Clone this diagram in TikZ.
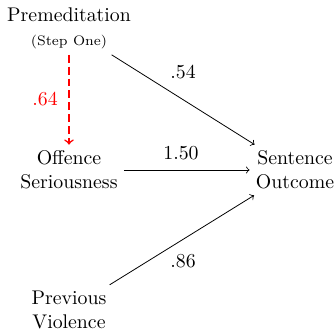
\documentclass[tikz,border=0pt]{standalone}
\usetikzlibrary{arrows}
\begin{document}
\begin{tikzpicture}[x=0.5051pt,y=-0.5051pt,
  var/.style={align=center, inner sep=3pt},
  coef/.style={inner sep=0pt},
  link/.style={->}]
\useasboundingbox (0,0) rectangle (336,330);
\node[var] (prem) at (69,28) {Premeditation\\{\scriptsize (Step One)}};
\node[var] (off) at (69,170) {Offence\\Seriousness};
\node[var] (sent) at (295,170) {Sentence\\Outcome};
\node[var] (prev) at (69,310) {Previous\\Violence};
\draw[->, red, thick, dash pattern=on 4pt off 2pt] (prem) -- (off);
\draw[link] (prem) -- (sent);
\draw[link] (off) -- (sent);
\draw[link] (prev) -- (sent);
\node[coef, text=red] (c64) at (45,99) {.64};
\node[coef] (c54) at (183,72) {.54};
\node[coef] (c150) at (181,153) {1.50};
\node[coef] (c86) at (183,261) {.86};
\end{tikzpicture}
\end{document}
